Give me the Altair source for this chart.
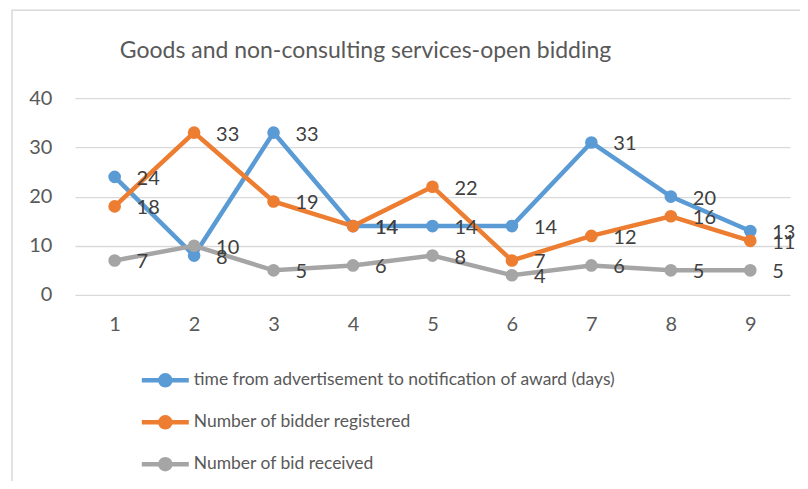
import altair as alt
import pandas as pd

categories = [1, 2, 3, 4, 5, 6, 7, 8, 9]
series_names = [
    "time from advertisement to notification of award (days)",
    "Number of bidder registered",
    "Number of bid received",
]
time_days = [24, 8, 33, 14, 14, 14, 31, 20, 13]
bidders_registered = [18, 33, 19, 14, 22, 7, 12, 16, 11]
bids_received = [7, 10, 5, 6, 8, 4, 6, 5, 5]
colors = ["#5B9BD5", "#ED7D31", "#A5A5A5"]

rows = []
for name, vals in zip(series_names, [time_days, bidders_registered, bids_received]):
    for c, v in zip(categories, vals):
        rows.append({"cat": str(c), "series": name, "value": v})
df = pd.DataFrame(rows)

FONT = "Lato"

x = alt.X("cat:O", scale=alt.Scale(type="point", padding=0.5),
          axis=alt.Axis(title=None, labelAngle=0, ticks=False, domain=False,
                        grid=False, labelPadding=20, labelFontSize=20,
                        labelColor="#595959", labelFont=FONT))
y = alt.Y("value:Q", scale=alt.Scale(domain=[0, 40]),
          axis=alt.Axis(title=None, values=[0, 10, 20, 30, 40], ticks=False,
                        domain=False, labelPadding=23, labelFontSize=20,
                        labelColor="#595959", labelFont=FONT,
                        gridColor="#D9D9D9", gridWidth=1.3))
color = alt.Color("series:N", sort=series_names,
                  scale=alt.Scale(domain=series_names, range=colors),
                  legend=alt.Legend(
                      title=None, orient="none", legendX=71, legendY=263,
                      direction="vertical",
                      symbolType="M-1.4,0H1.4M-0.3,0A0.3,0.3 0 1,1 0.3,0A0.3,0.3 0 1,1 -0.3,0Z",
                      symbolSize=1129, symbolStrokeWidth=4.5,
                      labelFontSize=17.5, labelColor="#595959", labelFont=FONT,
                      labelOffset=9, rowPadding=8, labelLimit=600))

base = alt.Chart(df)

lines = base.mark_line(strokeWidth=4.5).encode(x=x, y=y, color=color)
points = base.mark_point(filled=True, size=160, opacity=1).encode(
    x=x, y=y, color=alt.Color("series:N", scale=alt.Scale(domain=series_names, range=colors), legend=None))
labels = base.mark_text(align="left", baseline="middle", dx=22, dy=2,
                        fontSize=20, font=FONT, color="#404040").encode(
    x=x, y=y, text="value:Q")

border = alt.Chart(pd.DataFrame({"a": [0]})).mark_rect(
    fill=None, stroke="#D9D9D9", strokeWidth=1.5).encode(
    x=alt.value(-63), x2=alt.value(760), y=alt.value(-88), y2=alt.value(420))

chart = alt.layer(border, lines, points, labels).properties(
    width=716, height=197,
    title=alt.TitleParams("Goods and non-consulting services-open bidding",
                          fontSize=23, font=FONT, fontWeight="normal",
                          color="#595959", anchor="middle", dx=-67, offset=0,
                          dy=77, baseline="bottom"),
    autosize=alt.AutoSizeParams(type="none"),
    padding={"left": 67, "top": 90, "right": 10, "bottom": 186},
).configure_view(stroke=None)

chart.save("out.html", embed_options={"renderer": "svg", "actions": False})
